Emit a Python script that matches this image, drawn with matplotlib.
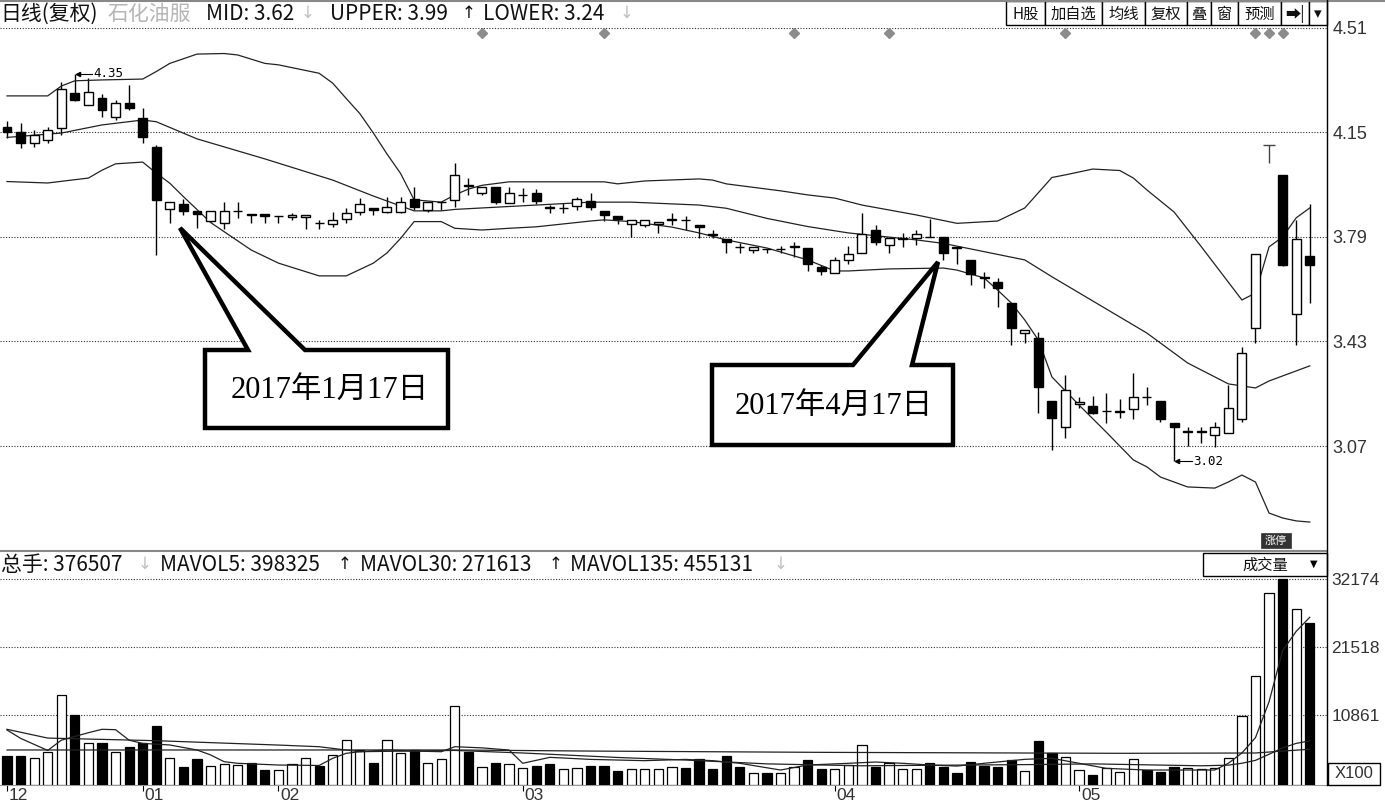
import matplotlib
matplotlib.use("Agg")
import matplotlib.pyplot as plt
from matplotlib.patches import Rectangle, Polygon

W, H = 1385, 802

# daily candles (price)
opens = [4.17, 4.153, 4.113, 4.124, 4.165, 4.285, 4.245, 4.27, 4.205, 4.253,
         4.201, 4.101, 3.886, 3.904, 3.881, 3.846, 3.837, 3.878, 3.869, 3.869,
         3.862, 3.858, 3.858, 3.838, 3.835, 3.852, 3.875, 3.889, 3.875, 3.875,
         3.921, 3.883, 3.91, 3.918, 3.97, 3.941, 3.963, 3.906, 3.933, 3.941,
         3.893, 3.889, 3.897, 3.915, 3.88, 3.862, 3.835, 3.832, 3.835, 3.848,
         3.849, 3.832, 3.799, 3.782, 3.756, 3.745, 3.749, 3.748, 3.757, 3.751,
         3.686, 3.667, 3.711, 3.736, 3.814, 3.763, 3.784, 3.786, 3.791, 3.791,
         3.755, 3.711, 3.652, 3.636, 3.562, 3.458, 3.441, 3.226, 3.137, 3.214,
         3.208, 3.19, 3.188, 3.197, 3.24, 3.226, 3.148, 3.119, 3.118, 3.108,
         3.116, 3.162, 3.476, 4.107, 4.004, 3.525, 3.725]
highs = [4.19, 4.182, 4.159, 4.168, 4.323, 4.35, 4.337, 4.283, 4.262, 4.314,
         4.233, 4.107, 3.912, 3.92, 3.881, 3.88, 3.912, 3.912, 3.869, 3.869,
         3.864, 3.872, 3.866, 3.849, 3.877, 3.889, 3.923, 3.889, 3.929, 3.929,
         3.963, 3.912, 3.912, 4.044, 3.993, 3.963, 3.963, 3.963, 3.958, 3.954,
         3.90, 3.906, 3.927, 3.941, 3.88, 3.862, 3.849, 3.849, 3.842, 3.872,
         3.862, 3.832, 3.814, 3.782, 3.768, 3.757, 3.749, 3.759, 3.774, 3.751,
         3.694, 3.722, 3.759, 3.872, 3.831, 3.788, 3.803, 3.814, 3.851, 3.791,
         3.755, 3.711, 3.67, 3.648, 3.562, 3.47, 3.464, 3.226, 3.315, 3.24,
         3.242, 3.252, 3.231, 3.323, 3.274, 3.226, 3.148, 3.135, 3.135, 3.154,
         3.28, 3.412, 3.731, 4.107, 4.004, 3.849, 3.904]
lows = [4.131, 4.096, 4.101, 4.113, 4.141, 4.259, 4.245, 4.205, 4.193, 4.228,
        4.113, 3.728, 3.837, 3.866, 3.82, 3.84, 3.818, 3.854, 3.837, 3.837,
        3.837, 3.849, 3.818, 3.818, 3.826, 3.837, 3.866, 3.866, 3.872, 3.872,
        3.883, 3.877, 3.883, 3.895, 3.935, 3.935, 3.904, 3.906, 3.912, 3.904,
        3.874, 3.874, 3.883, 3.883, 3.846, 3.835, 3.791, 3.826, 3.803, 3.832,
        3.814, 3.786, 3.786, 3.734, 3.734, 3.734, 3.734, 3.734, 3.722, 3.674,
        3.659, 3.665, 3.697, 3.736, 3.763, 3.734, 3.757, 3.763, 3.79, 3.711,
        3.697, 3.625, 3.613, 3.55, 3.418, 3.424, 3.183, 3.056, 3.097, 3.20,
        3.18, 3.148, 3.166, 3.162, 3.211, 3.154, 3.02, 3.07, 3.08, 3.068,
        3.116, 3.154, 3.424, 4.044, 3.69, 3.418, 3.564]
closes = [4.153, 4.113, 4.141, 4.159, 4.299, 4.262, 4.291, 4.228, 4.253, 4.233,
          4.136, 3.918, 3.912, 3.881, 3.869, 3.88, 3.88, 3.88, 3.866, 3.864,
          3.864, 3.866, 3.866, 3.837, 3.849, 3.872, 3.904, 3.883, 3.895, 3.912,
          3.892, 3.912, 3.912, 4.004, 3.966, 3.963, 3.912, 3.941, 3.936, 3.914,
          3.889, 3.891, 3.92, 3.895, 3.866, 3.851, 3.849, 3.849, 3.842, 3.851,
          3.847, 3.824, 3.797, 3.774, 3.754, 3.757, 3.747, 3.749, 3.759, 3.697,
          3.674, 3.711, 3.73, 3.80, 3.774, 3.788, 3.786, 3.80, 3.789, 3.736,
          3.753, 3.663, 3.650, 3.613, 3.476, 3.47, 3.274, 3.165, 3.263, 3.223,
          3.185, 3.192, 3.19, 3.24, 3.238, 3.162, 3.135, 3.12, 3.12, 3.135,
          3.2, 3.39, 3.731, 4.107, 3.694, 3.782, 3.694]
# volume, x100 shares
volumes = [4530, 4530, 4170, 5200, 14060, 10930, 6510, 6510, 5200, 5880,
           6510, 9220, 4170, 2760, 4010, 2970, 3280, 3120, 3390, 2340,
           2340, 3280, 4170, 2970, 4690, 7030, 5470, 3490, 7030, 5050,
           5470, 3490, 4010, 12340, 5200, 2760, 3490, 3230, 2600, 2970,
           3280, 2450, 2710, 2970, 2970, 2240, 2450, 2450, 2450, 2760,
           2600, 4010, 2450, 4530, 2860, 1920, 1920, 1820, 2760, 3900,
           2450, 2450, 3120, 6250, 2760, 3390, 2450, 2450, 3390, 2760,
           1920, 3650, 2970, 2760, 3900, 2240, 6920, 4950, 4320, 2340,
           1560, 2600, 2080, 4010, 2340, 2080, 2860, 2600, 2450, 2600,
           4170, 10780, 17030, 29940, 32130, 27440, 25260]

# Bollinger bands, read at candle positions
upper_idx = [0, 3, 4, 5, 7, 10, 11, 12, 14, 16, 17, 19, 20, 23, 24, 25, 26, 27, 28, 29,
             30, 32, 33, 34, 35, 37, 44, 45, 47, 51, 52, 53, 57, 59, 61, 63, 67, 70, 73,
             75, 77, 78, 80, 82, 83, 84, 86, 88, 91, 92, 93, 94, 95, 96]
upper_val = [4.276, 4.276, 4.31, 4.328, 4.331, 4.334, 4.36, 4.388, 4.42, 4.422, 4.417,
             4.388, 4.383, 4.354, 4.32, 4.267, 4.215, 4.148, 4.076, 4.009, 3.918, 3.91,
             3.935, 3.955, 3.968, 3.98, 3.98, 3.973, 3.983, 3.99, 3.986, 3.973, 3.949,
             3.935, 3.924, 3.90, 3.866, 3.837, 3.845, 3.89, 3.995, 4.004, 4.024, 4.019,
             3.993, 3.952, 3.876, 3.757, 3.573, 3.597, 3.756, 3.79, 3.856, 3.89]
mid_idx = [0, 4, 7, 10, 11, 14, 19, 24, 27, 30, 32, 33, 35, 37, 39, 43, 46, 51, 53, 56,
           59, 62, 67, 69, 75, 77, 84, 87, 90, 92, 93, 96]
mid_val = [4.133, 4.148, 4.176, 4.193, 4.187, 4.128, 4.059, 3.986, 3.931, 3.88, 3.88,
           3.885, 3.89, 3.895, 3.90, 3.91, 3.91, 3.90, 3.889, 3.854, 3.826, 3.804, 3.78,
           3.768, 3.711, 3.653, 3.459, 3.356, 3.284, 3.27, 3.294, 3.346]
lower_idx = [0, 3, 6, 7, 8, 10, 11, 12, 13, 15, 18, 20, 23, 25, 27, 28, 29, 30, 32, 33,
             35, 37, 39, 43, 44, 46, 49, 51, 53, 56, 59, 61, 62, 65, 69, 70, 72, 73, 74,
             75, 76, 77, 79, 81, 83, 84, 85, 87, 89, 90, 91, 92, 93, 94, 95, 96]
lower_val = [3.981, 3.976, 3.993, 4.02, 4.042, 4.048, 4.01, 3.975, 3.929, 3.84, 3.745,
             3.70, 3.656, 3.656, 3.70, 3.735, 3.785, 3.843, 3.843, 3.82, 3.814, 3.82,
             3.825, 3.845, 3.849, 3.843, 3.824, 3.804, 3.78, 3.752, 3.711, 3.673, 3.673,
             3.68, 3.683, 3.676, 3.649, 3.607, 3.563, 3.504, 3.435, 3.308, 3.211, 3.118,
             3.022, 2.998, 2.963, 2.929, 2.925, 2.946, 2.97, 2.946, 2.839, 2.822, 2.812,
             2.808]

# volume moving averages, read at candle positions
ma5_idx = [0, 1, 3, 4, 6, 7, 8, 9, 10, 12, 14, 15, 16, 17, 20, 23, 24, 25, 26, 28, 30,
           32, 33, 35, 37, 38, 40, 43, 47, 50, 52, 54, 57, 59, 62, 64, 66, 68, 70, 72,
           75, 77, 79, 81, 84, 89, 90, 91, 92, 93, 94, 95, 96]
ma5_val = [8590, 7290, 5400, 7000, 8170, 8700, 8640, 7000, 6500, 6250, 5470, 4700, 3640,
           3390, 3120, 3050, 4170, 4950, 5200, 5470, 5300, 5200, 5980, 5800, 5460, 3390,
           4320, 4000, 3800, 4000, 3800, 3390, 2340, 3120, 3390, 3590, 3390, 3120, 2960,
           3390, 4010, 4170, 3390, 2600, 2340, 2340, 3390, 5000, 7400, 13000, 21000,
           24000, 26200]
ma30_idx = [0, 3, 11, 20, 23, 26, 33, 38, 45, 50, 56, 63, 76, 80, 88, 90, 91, 92, 93,
            94, 95, 96]
ma30_val = [8700, 7330, 6920, 6240, 5980, 5200, 5400, 5000, 4300, 3900, 3300, 3000, 3200,
            3300, 3000, 3100, 3400, 3850, 4800, 5800, 6500, 6900]
ma135_idx = [0, 33, 43, 60, 82, 92, 94, 96]
ma135_val = [5470, 5470, 5300, 5100, 4950, 5000, 5300, 5580]

price_ticks = [3.07, 3.43, 3.79, 4.15, 4.51]
vol_ticks = [10861, 21518, 32174]
month_idx = [0, 10, 20, 38, 61, 79]
month_lbl = ["12", "01", "02", "03", "04", "05"]
mine_idx = [35, 44, 58, 65, 78, 92, 93, 94]

CJK = ["Noto Sans CJK SC", "DejaVu Sans"]
AXF = ["Liberation Sans", "DejaVu Sans"]

fig = plt.figure(figsize=(W / 100, H / 100), dpi=100)
fig.patch.set_facecolor("white")


def frac(x0, y0, x1, y1):
    return [x0 / W, 1 - y1 / H, (x1 - x0) / W, (y1 - y0) / H]


ax = fig.add_axes(frac(0, 3, 1327, 545))
ax2 = fig.add_axes(frac(0, 553, 1327, 785))
ov = fig.add_axes([0, 0, 1, 1], zorder=10)
ov.set_xlim(0, W)
ov.set_ylim(H, 0)
ov.axis("off")
ov.patch.set_alpha(0)

n = len(closes)
XL = (-0.516, 97.27)
bw = 0.66

# ---- price panel ----
for i in range(n):
    o, h, l, c = opens[i], highs[i], lows[i], closes[i]
    if o == c == h:
        # T-shaped limit-up day
        ax.hlines(o, i - 0.45, i + 0.45, color="#444", lw=1)
        ax.vlines(i, l, h, color="#444", lw=1)
        continue
    lo_b, hi_b = min(o, c), max(o, c)
    ax.vlines(i, l, lo_b, color="black", lw=1)
    ax.vlines(i, hi_b, h, color="black", lw=1)
    ax.add_patch(Rectangle((i - bw / 2, lo_b), bw, max(hi_b - lo_b, 0.0015),
                           facecolor="white" if c >= o else "black",
                           edgecolor="black", lw=1, zorder=3))

for xs, ys in [(upper_idx, upper_val), (mid_idx, mid_val), (lower_idx, lower_val)]:
    ax.plot(xs, ys, color="#222", lw=0.9, zorder=2)

ax.plot(mine_idx, [4.493] * len(mine_idx), "D", color="#8c8c8c", ms=5, zorder=4)

# max / min markers
ax.plot([5.2, 6.3], [4.35, 4.35], color="black", lw=0.8)
ax.plot(5.25, 4.35, "<", color="black", ms=3)
ax.text(6.4, 4.352, "4.35", fontsize=9, family="DejaVu Sans Mono", va="center")
ax.plot([86.2, 87.3], [3.02, 3.02], color="black", lw=0.8)
ax.plot(86.25, 3.02, "<", color="black", ms=3)
ax.text(87.4, 3.018, "3.02", fontsize=9, family="DejaVu Sans Mono", va="center")

ax.set_xlim(*XL)
ax.set_ylim(2.729, 4.596)
ax.set_yticks(price_ticks)
ax.set_yticklabels([f"{v:.2f}" for v in price_ticks], family=AXF, fontsize=13,
                   color="#333")
ax.yaxis.tick_right()
ax.tick_params(axis="y", length=0, pad=4)
ax.set_xticks([])
ax.grid(axis="y", linestyle=(0, (1, 1.5)), color="#333", lw=0.8)
for s in ax.spines.values():
    s.set_visible(False)

# ---- volume panel ----
vcol = ["white" if closes[i] >= opens[i] else "black" for i in range(n)]
ax2.bar(range(n), volumes, width=0.68, color=vcol, edgecolor="black", lw=0.9, zorder=3)
for xs, ys in [(ma5_idx, ma5_val), (ma30_idx, ma30_val), (ma135_idx, ma135_val)]:
    ax2.plot(xs, ys, color="#222", lw=0.9, zorder=4)
ax2.set_xlim(*XL)
ax2.set_ylim(0, 36240)
ax2.set_yticks(vol_ticks)
ax2.set_yticklabels([str(v) for v in vol_ticks], family=AXF, fontsize=12.5, color="#333")
ax2.yaxis.tick_right()
ax2.tick_params(axis="y", length=0, pad=3)
ax2.grid(axis="y", linestyle=(0, (1, 1.5)), color="#333", lw=0.8)
ax2.set_xticks(month_idx)
ax2.set_xticklabels([])
ax2.tick_params(axis="x", length=4, color="black", width=0.8)
for s in ax2.spines.values():
    s.set_visible(False)
ax2.spines["bottom"].set_visible(True)
ax2.spines["bottom"].set_color("#999")
for mi, ml in zip(month_idx, month_lbl):
    xp = (mi - XL[0]) / (XL[1] - XL[0]) * 1327
    ov.text(xp + 2, 796, ml, fontsize=12.5, family=AXF, color="#333", va="center", ha="left")

# ---- frame lines ----
ov.plot([0, W], [1, 1], color="#888", lw=1.5)
ov.plot([0, 1327], [551, 551], color="#888", lw=1.5)
ov.plot([1327, 1327], [0, 785], color="black", lw=1)

# ---- header texts ----
hdr = [(0, "日线(复权)", "#111"), (107, "石化油服", "#b5b5b5"), (206, "MID: 3.62", "#111"),
       (301, "↓", "#c0c0c0"), (330, "UPPER: 3.99", "#111"), (462, "↑", "#111"),
       (483, "LOWER: 3.24", "#111"), (620, "↓", "#c0c0c0")]
for xp, t, col in hdr:
    if t in ("↑", "↓"):
        ov.text(xp, 13, t, fontsize=12, family="DejaVu Sans", color=col, va="center", ha="left")
    else:
        ov.text(xp, 14, t, fontsize=15, family=CJK, color=col, va="center", ha="left")

vhdr = [(1, "总手: 376507", "#111"), (138, "↓", "#c0c0c0"), (160, "MAVOL5: 398325", "#111"),
        (338, "↑", "#111"), (360, "MAVOL30: 271613", "#111"), (549, "↑", "#111"),
        (570, "MAVOL135: 455131", "#111"), (774, "↓", "#c0c0c0")]
for xp, t, col in vhdr:
    if t in ("↑", "↓"):
        ov.text(xp, 564, t, fontsize=12, family="DejaVu Sans", color=col, va="center", ha="left")
    else:
        ov.text(xp, 565, t, fontsize=15, family=CJK, color=col, va="center", ha="left")

# toolbar
tools = [(1006, 1045, "H股"), (1045, 1102, "加自选"), (1102, 1145, "均线"), (1145, 1187, "复权"),
         (1187, 1211, "叠"), (1211, 1238, "窗"), (1238, 1281, "预测"), (1281, 1309, "➡|"),
         (1309, 1327, "▾")]
for x0, x1, t in tools:
    ov.add_patch(Rectangle((x0, 1), x1 - x0, 24, facecolor="white", edgecolor="black", lw=1))
    ov.text((x0 + x1) / 2, 14, t, fontsize=11, family=["Noto Sans CJK SC", "DejaVu Sans"],
            ha="center", va="center", color="#111")

ov.add_patch(Rectangle((1203, 553), 124, 23, facecolor="white", edgecolor="black", lw=1))
ov.text(1265, 565, "成交量", fontsize=11, family=CJK, ha="center", va="center", color="#111")
ov.text(1314, 564, "▼", fontsize=7, family="DejaVu Sans", ha="center", va="center")
ov.add_patch(Rectangle((1328, 763), 52, 22, facecolor="white", edgecolor="black", lw=1))
ov.text(1354, 774, "X100", fontsize=12, family=AXF, ha="center", va="center", color="#333")
ov.add_patch(Rectangle((1261, 533), 30, 15, facecolor="#333", edgecolor="#333", lw=0.5))
ov.text(1276, 540.5, "涨停", fontsize=8, family=CJK, ha="center", va="center", color="white")

# ---- callouts ----
SER = ["Liberation Serif", "Noto Sans CJK SC"]
c1 = [(205, 350), (248, 350), (180, 228), (305, 350), (448, 350), (448, 428), (205, 428)]
c2 = [(712, 365), (853, 365), (938, 262), (912, 365), (953, 365), (953, 445), (712, 445)]
for pts in (c1, c2):
    ov.add_patch(Polygon(pts, closed=True, facecolor="white", edgecolor="black", lw=3.2,
                         joinstyle="miter"))
ov.text(330, 390, "2017年1月17日", fontsize=22, family=SER, ha="center", va="center")
ov.text(834, 406, "2017年4月17日", fontsize=22, family=SER, ha="center", va="center")

fig.savefig("out.png", dpi=100, facecolor="white")
